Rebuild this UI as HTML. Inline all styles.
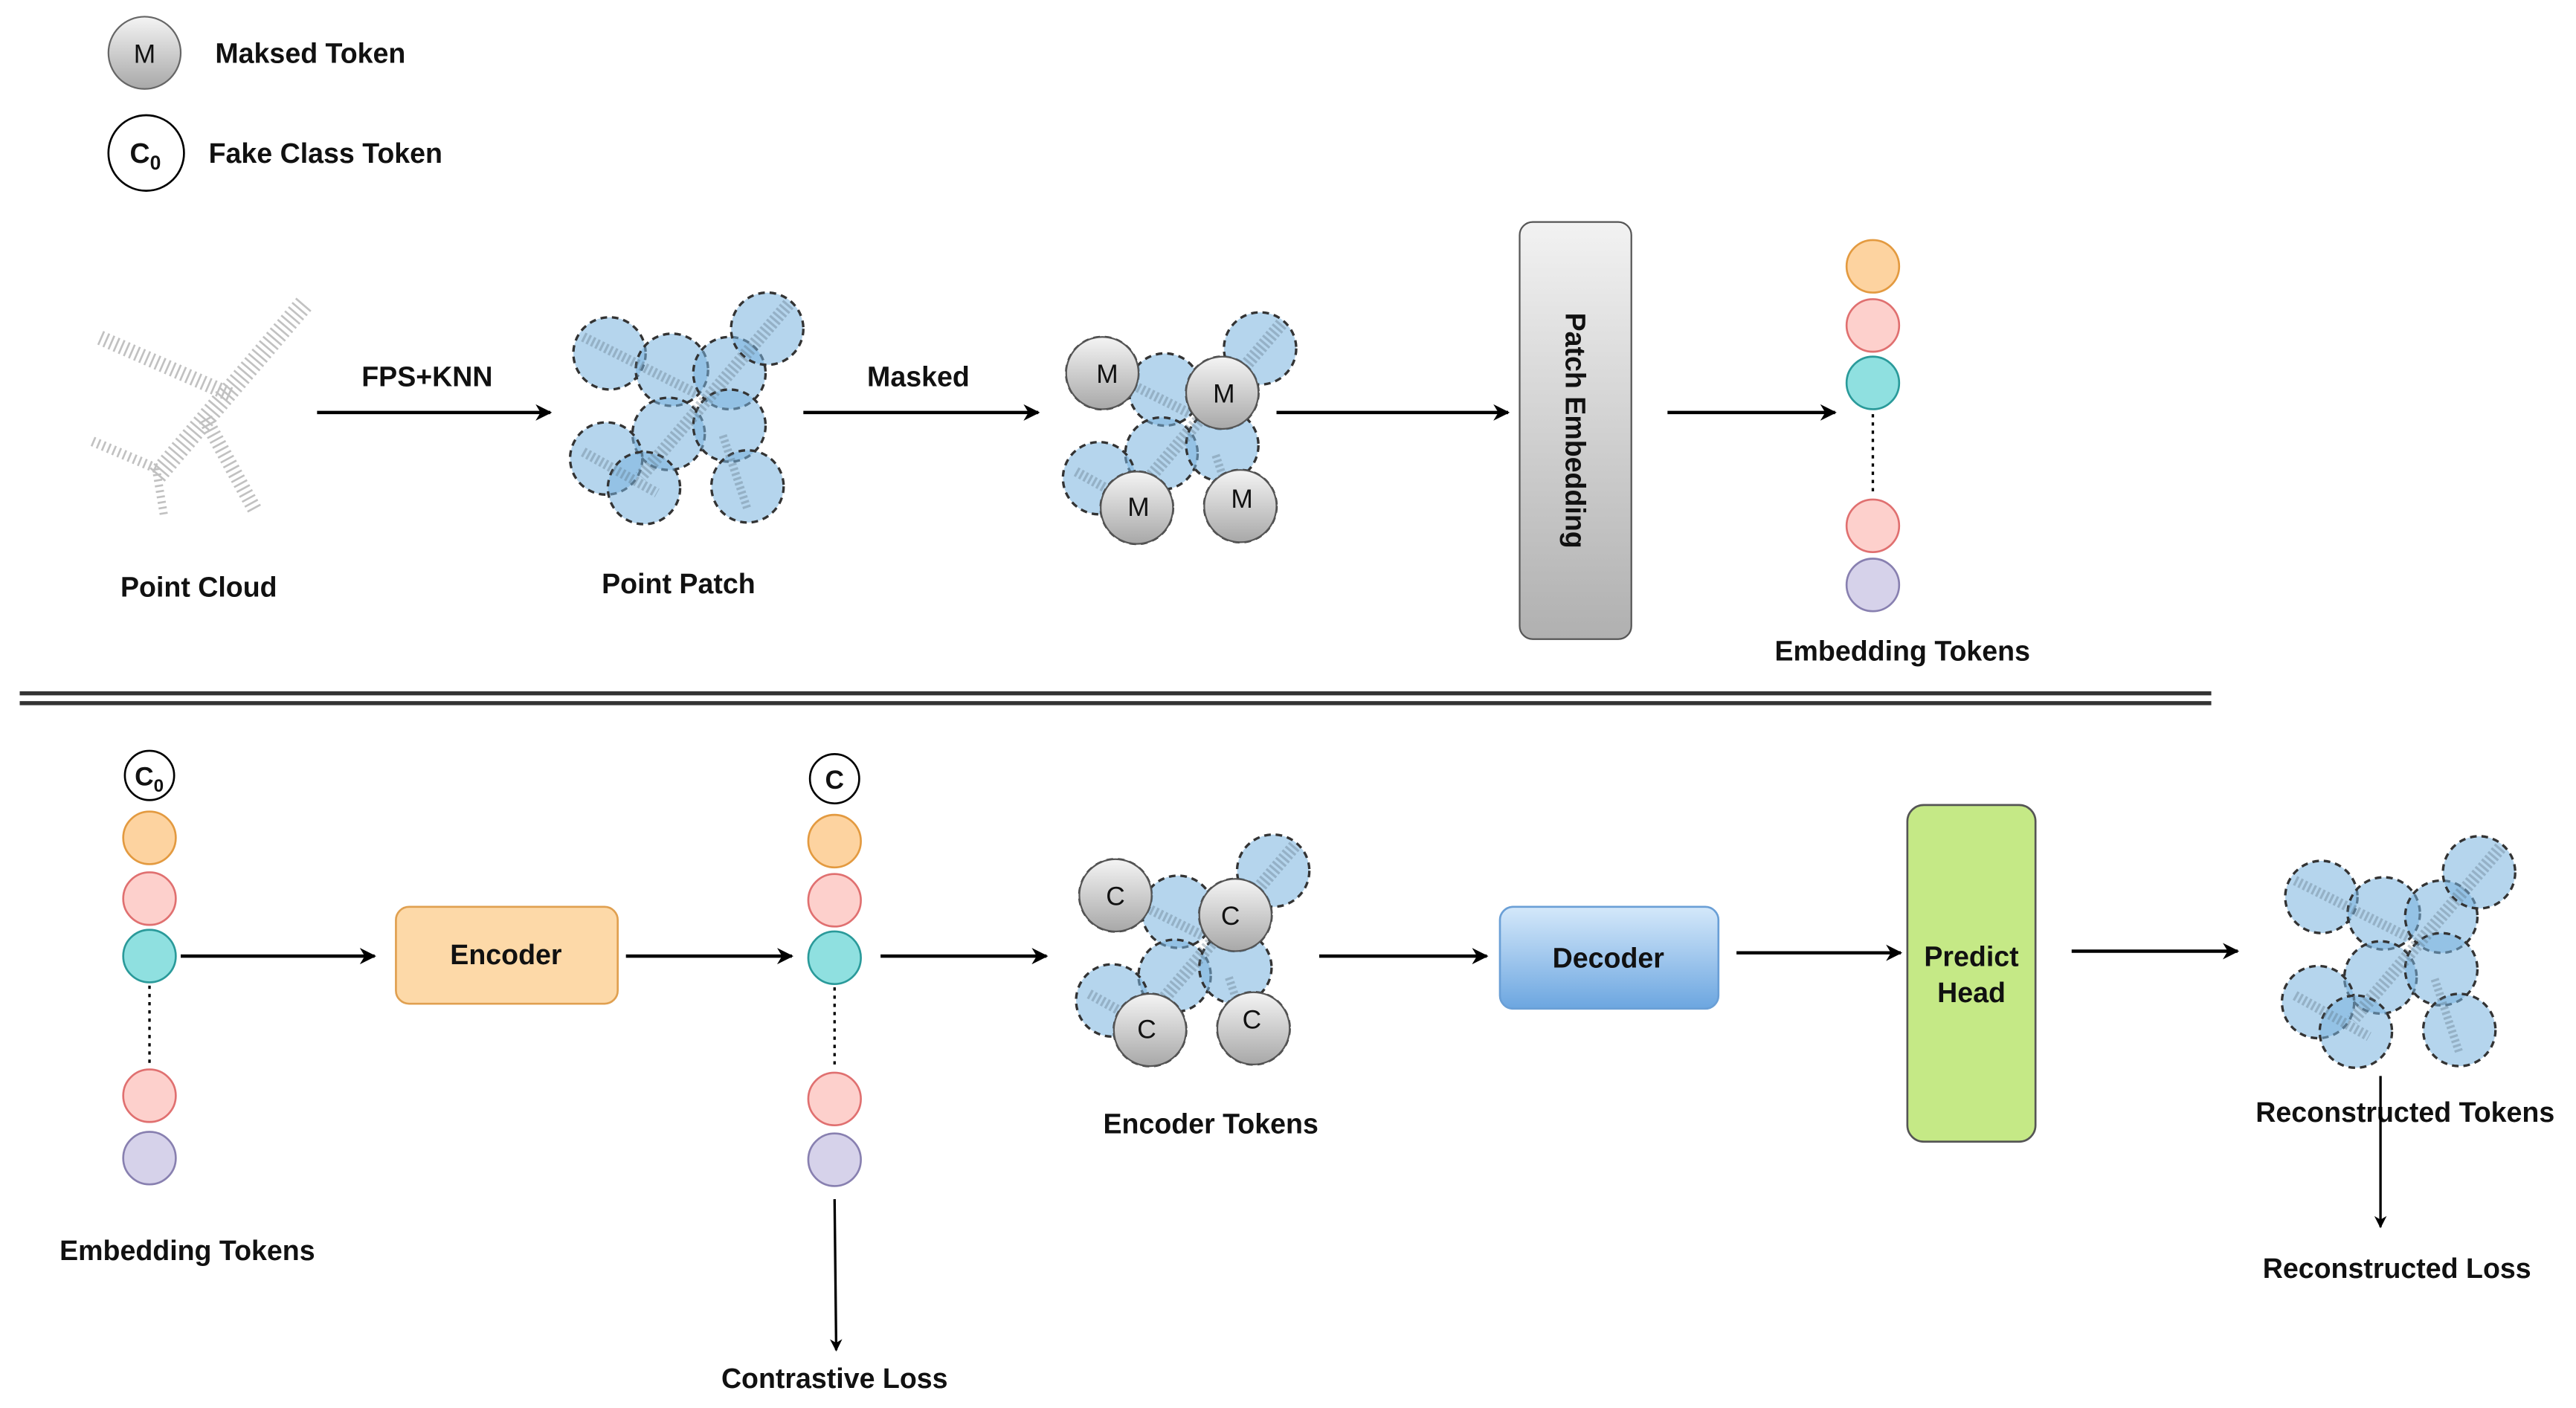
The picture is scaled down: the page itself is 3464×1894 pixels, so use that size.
<!DOCTYPE html>
<html><head><meta charset="utf-8"><style>html,body{margin:0;padding:0;background:#fff}svg{display:block}text{font-family:"Liberation Sans",Arial,sans-serif;font-weight:bold;fill:#111}</style></head><body>
<svg width="3464" height="1894" viewBox="0 0 1568 857" xmlns="http://www.w3.org/2000/svg">
<defs>
<marker id="a" viewBox="0 0 10 10" refX="9" refY="5" markerWidth="5" markerHeight="5" orient="auto"><path d="M0,0 L10,5 L0,10 L3,5 z" fill="#000"/></marker>
<linearGradient id="g" x1="0" y1="0" x2="0" y2="1"><stop offset="0" stop-color="#f4f4f4"/><stop offset="1" stop-color="#a8a8a8"/></linearGradient>
<linearGradient id="pe" x1="0" y1="0" x2="0" y2="1"><stop offset="0" stop-color="#f2f2f2"/><stop offset="1" stop-color="#b0b0b0"/></linearGradient>
<linearGradient id="db" x1="0" y1="0" x2="0" y2="1"><stop offset="0" stop-color="#d4e8fa"/><stop offset="1" stop-color="#6ca6e0"/></linearGradient>
<g id="pp">
<g fill="rgba(120,178,222,0.55)" stroke="#333" stroke-width="1.5" stroke-dasharray="4 3">
<circle cx="371" cy="215" r="22"/><circle cx="409" cy="225" r="22"/><circle cx="444" cy="227" r="22"/><circle cx="467" cy="200" r="22"/><circle cx="407" cy="264" r="22"/><circle cx="444" cy="259" r="22"/><circle cx="369" cy="279" r="22"/><circle cx="392" cy="297" r="22"/><circle cx="455" cy="296" r="22"/></g>
<g stroke="#5a7080" stroke-dasharray="1.5 1.5" opacity=".35" fill="none">
<path d="M480,185 L390,290" stroke-width="8"/>
<path d="M355,205 L425,240" stroke-width="6"/>
<path d="M355,275 L400,300" stroke-width="6"/>
<path d="M440,265 L455,310" stroke-width="5"/>
</g>
</g>
</defs>
<circle cx="88" cy="32" r="22" fill="url(#g)" stroke="#666" stroke-width="1"/>
<text x="88" y="38" font-size="16" text-anchor="middle" style="font-weight:normal">M</text>
<text x="131" y="38" font-size="17">Maksed Token</text>
<circle cx="89" cy="93" r="23" fill="#fff" stroke="#000" stroke-width="1.2"/>
<text x="79" y="99" font-size="17">C<tspan font-size="12" dy="4">0</tspan></text>
<text x="127" y="99" font-size="17">Fake Class Token</text>
<g stroke="#999" fill="none" stroke-dasharray="1.2 2.2" opacity=".6">
<path d="M185,185 L95,290" stroke-width="12"/>
<path d="M140,240 L60,205" stroke-width="9"/>
<path d="M125,255 L155,310" stroke-width="9"/>
<path d="M95,285 L55,268" stroke-width="6"/>
<path d="M95,285 L100,315" stroke-width="5"/>
</g>
<text x="121" y="363" font-size="17" text-anchor="middle">Point Cloud</text>
<line x1="193" y1="251" x2="335" y2="251" stroke="#000" stroke-width="2" marker-end="url(#a)"/>
<text x="260" y="235" font-size="17" text-anchor="middle">FPS+KNN</text>
<use href="#pp"/>
<text x="413" y="361" font-size="17" text-anchor="middle">Point Patch</text>
<line x1="489" y1="251" x2="632" y2="251" stroke="#000" stroke-width="2" marker-end="url(#a)"/>
<text x="559" y="235" font-size="17" text-anchor="middle">Masked</text>
<use href="#pp" transform="translate(300,12)"/>
<g fill="url(#g)" stroke="#555" stroke-width="1"><circle cx="671" cy="227" r="22"/><circle cx="744" cy="239" r="22"/><circle cx="692" cy="309" r="22"/><circle cx="755" cy="308" r="22"/></g>
<g font-size="16" text-anchor="middle"><text x="674" y="233" style="font-weight:normal">M</text><text x="745" y="245" style="font-weight:normal">M</text><text x="693" y="314" style="font-weight:normal">M</text><text x="756" y="309" style="font-weight:normal">M</text></g>
<line x1="777" y1="251" x2="918" y2="251" stroke="#000" stroke-width="2" marker-end="url(#a)"/>
<rect x="925" y="135" width="68" height="254" rx="8" fill="url(#pe)" stroke="#555" stroke-width="1"/>
<text x="0" y="0" font-size="17" text-anchor="middle" transform="translate(953,262) rotate(90)">Patch Embedding</text>
<line x1="1015" y1="251" x2="1117" y2="251" stroke="#000" stroke-width="2" marker-end="url(#a)"/>
<g stroke-width="1.2">
<circle cx="1140" cy="162" r="16" fill="#fdd3a0" stroke="#e39a40"/>
<circle cx="1140" cy="198" r="16" fill="#fdd0cc" stroke="#e07070"/>
<circle cx="1140" cy="233" r="16" fill="#8fe0e0" stroke="#2a9a9a"/>
<circle cx="1140" cy="320" r="16" fill="#fdd0cc" stroke="#e07070"/>
<circle cx="1140" cy="356" r="16" fill="#d6d2ea" stroke="#8880b0"/>
</g>
<line x1="1140" y1="252" x2="1140" y2="302" stroke="#000" stroke-width="1.5" stroke-dasharray="2 3"/>
<text x="1158" y="402" font-size="17" text-anchor="middle">Embedding Tokens</text>
<line x1="12" y1="422" x2="1346" y2="422" stroke="#333" stroke-width="2.5"/>
<line x1="12" y1="428" x2="1346" y2="428" stroke="#333" stroke-width="2.5"/>
<circle cx="91" cy="472" r="15" fill="#fff" stroke="#000" stroke-width="1.2"/>
<text x="82" y="478" font-size="16">C<tspan font-size="11" dy="4">0</tspan></text>
<g stroke-width="1.2">
<circle cx="91" cy="510" r="16" fill="#fdd3a0" stroke="#e39a40"/>
<circle cx="91" cy="547" r="16" fill="#fdd0cc" stroke="#e07070"/>
<circle cx="91" cy="582" r="16" fill="#8fe0e0" stroke="#2a9a9a"/>
<circle cx="91" cy="667" r="16" fill="#fdd0cc" stroke="#e07070"/>
<circle cx="91" cy="705" r="16" fill="#d6d2ea" stroke="#8880b0"/>
</g>
<line x1="91" y1="600" x2="91" y2="650" stroke="#000" stroke-width="1.5" stroke-dasharray="2 3"/>
<text x="114" y="767" font-size="17" text-anchor="middle">Embedding Tokens</text>
<line x1="110" y1="582" x2="228" y2="582" stroke="#000" stroke-width="2" marker-end="url(#a)"/>
<rect x="241" y="552" width="135" height="59" rx="8" fill="#fdd9a8" stroke="#e0a050" stroke-width="1.2"/>
<text x="308" y="587" font-size="17" text-anchor="middle">Encoder</text>
<line x1="381" y1="582" x2="482" y2="582" stroke="#000" stroke-width="2" marker-end="url(#a)"/>
<circle cx="508" cy="474" r="15" fill="#fff" stroke="#000" stroke-width="1.2"/>
<text x="508" y="480" font-size="16" text-anchor="middle">C</text>
<g stroke-width="1.2">
<circle cx="508" cy="512" r="16" fill="#fdd3a0" stroke="#e39a40"/>
<circle cx="508" cy="548" r="16" fill="#fdd0cc" stroke="#e07070"/>
<circle cx="508" cy="583" r="16" fill="#8fe0e0" stroke="#2a9a9a"/>
<circle cx="508" cy="669" r="16" fill="#fdd0cc" stroke="#e07070"/>
<circle cx="508" cy="706" r="16" fill="#d6d2ea" stroke="#8880b0"/>
</g>
<line x1="508" y1="601" x2="508" y2="651" stroke="#000" stroke-width="1.5" stroke-dasharray="2 3"/>
<line x1="508" y1="730" x2="509" y2="822" stroke="#000" stroke-width="1.5" marker-end="url(#a)"/>
<text x="508" y="845" font-size="17" text-anchor="middle">Contrastive Loss</text>
<line x1="536" y1="582" x2="637" y2="582" stroke="#000" stroke-width="2" marker-end="url(#a)"/>
<use href="#pp" transform="translate(308,330)"/>
<g fill="url(#g)" stroke="#555" stroke-width="1"><circle cx="679" cy="545" r="22"/><circle cx="752" cy="557" r="22"/><circle cx="700" cy="627" r="22"/><circle cx="763" cy="626" r="22"/></g>
<g font-size="16" text-anchor="middle"><text x="679" y="551" style="font-weight:normal">C</text><text x="749" y="563" style="font-weight:normal">C</text><text x="698" y="632" style="font-weight:normal">C</text><text x="762" y="626" style="font-weight:normal">C</text></g>
<text x="737" y="690" font-size="17" text-anchor="middle">Encoder Tokens</text>
<line x1="803" y1="582" x2="905" y2="582" stroke="#000" stroke-width="2" marker-end="url(#a)"/>
<rect x="913" y="552" width="133" height="62" rx="8" fill="url(#db)" stroke="#6a9fd6" stroke-width="1.2"/>
<text x="979" y="589" font-size="17" text-anchor="middle">Decoder</text>
<line x1="1057" y1="580" x2="1157" y2="580" stroke="#000" stroke-width="2" marker-end="url(#a)"/>
<rect x="1161" y="490" width="78" height="205" rx="10" fill="#c5e986" stroke="#555" stroke-width="1.2"/>
<text x="1200" y="588" font-size="17" text-anchor="middle">Predict</text>
<text x="1200" y="610" font-size="17" text-anchor="middle">Head</text>
<line x1="1261" y1="579" x2="1362" y2="579" stroke="#000" stroke-width="2" marker-end="url(#a)"/>
<use href="#pp" transform="translate(1042,331)"/>
<text x="1464" y="683" font-size="17" text-anchor="middle">Reconstructed Tokens</text>
<line x1="1449" y1="655" x2="1449" y2="747" stroke="#000" stroke-width="1.5" marker-end="url(#a)"/>
<text x="1459" y="778" font-size="17" text-anchor="middle">Reconstructed Loss</text>
</svg>
</body></html>
